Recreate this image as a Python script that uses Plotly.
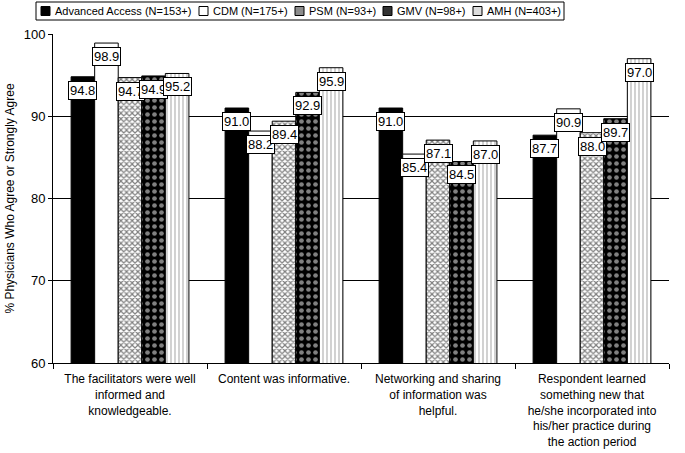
import plotly.graph_objects as go

categories = [
    "The facilitators were well<br>informed and<br>knowledgeable.",
    "Content was informative.<br> <br> ",
    "Networking and sharing<br>of information was<br>helpful.",
    "Respondent learned<br>something new that<br>he/she incorporated into<br>his/her practice during<br>the action period",
]
series_names = ["Advanced Access (N=153+)", "CDM (N=175+)", "PSM (N=93+)", "GMV (N=98+)", "AMH (N=403+)"]
advanced_access = [94.8, 91.0, 91.0, 87.7]
cdm = [98.9, 88.2, 85.4, 90.9]
psm = [94.7, 89.4, 87.1, 88.0]
gmv = [94.9, 92.9, 84.5, 89.7]
amh = [95.2, 95.9, 87.0, 97.0]
values = [advanced_access, cdm, psm, gmv, amh]

FONT = "Liberation Sans, Arial, sans-serif"

styles = [
    dict(color="black", pattern=dict(shape="")),
    dict(color="white", pattern=dict(shape="")),
    dict(color="white", pattern=dict(shape="x", fgcolor="black", bgcolor="white", size=4, solidity=0.5)),
    dict(color="black", pattern=dict(shape=".", fgcolor="white", bgcolor="black", size=7, solidity=0.35)),
    dict(color="white", pattern=dict(shape="|", fgcolor="#666", bgcolor="white", size=4, solidity=0.3)),
]
legend_fill = ["black", "white", "#8c8c8c", "#333333", "#dcdcdc"]

# plot-area geometry in pixels (for placing the hand-drawn legend)
L, R, T, B, W, H = 53, 16, 34, 90, 685, 453
pw, ph = W - L - R, H - T - B
def px_x(p):
    return (p - L) / pw
def px_y(p):
    return (H - B - p) / ph

fig = go.Figure()
for name, vals, st in zip(series_names, values, styles):
    fig.add_bar(
        x=categories, y=vals, name=name, showlegend=False,
        marker=dict(color=st["color"], pattern=st["pattern"], line=dict(color="black", width=1)),
    )

bargap = 0.235
n = len(series_names)
bw = (1 - bargap) / n
annotations = []
for i, vals in enumerate(values):
    for k, v in enumerate(vals):
        annotations.append(dict(
            x=k - (1 - bargap) / 2 + bw * (i + 0.5), y=v, xref="x", yref="y",
            text=f"{v:.1f}", showarrow=False, yanchor="top", yshift=-4,
            bgcolor="white", bordercolor="black", borderwidth=1, borderpad=1,
            font=dict(size=13, color="black", family=FONT),
        ))

# legend (hand-placed, single row with frame)
sym_left = [41, 199, 295, 383, 473]
shapes = [dict(type="rect", xref="paper", yref="paper", x0=px_x(36), x1=px_x(564), y0=px_y(20), y1=px_y(2),
               line=dict(color="black", width=1), fillcolor="white")]
for j, (name, sx) in enumerate(zip(series_names, sym_left)):
    shapes.append(dict(type="rect", xref="paper", yref="paper", x0=px_x(sx), x1=px_x(sx + 9),
                       y0=px_y(15.5), y1=px_y(6.5), line=dict(color="black", width=1),
                       fillcolor=legend_fill[j]))
    annotations.append(dict(x=px_x(sx + 12), y=px_y(11), xref="paper", yref="paper", text=name,
                            showarrow=False, xanchor="left", yanchor="middle",
                            font=dict(size=11, color="black", family=FONT)))

fig.update_layout(
    width=W, height=H,
    margin=dict(l=L, r=R, t=T, b=B, autoexpand=False),
    paper_bgcolor="white", plot_bgcolor="white",
    barmode="group", bargap=bargap, bargroupgap=0,
    font=dict(family=FONT, size=13, color="black"),
    showlegend=False,
    annotations=annotations,
    shapes=shapes,
)
fig.update_yaxes(range=[60, 100], dtick=10, showgrid=True, gridcolor="black", gridwidth=1,
                 showline=True, linecolor="black", ticks="outside", ticklen=4, tickcolor="black",
                 title=dict(text="% Physicians Who Agree or Strongly Agree", font=dict(size=12), standoff=6),
                 tickfont=dict(size=13), zeroline=False)
fig.update_xaxes(showline=True, linecolor="black", ticks="outside", tickson="boundaries", ticklen=5,
                 tickcolor="black", tickangle=0, tickfont=dict(size=12), ticklabelstandoff=5)

fig.write_html("out.html", config={"displayModeBar": False},
               post_script="document.body.style.margin='0';")
